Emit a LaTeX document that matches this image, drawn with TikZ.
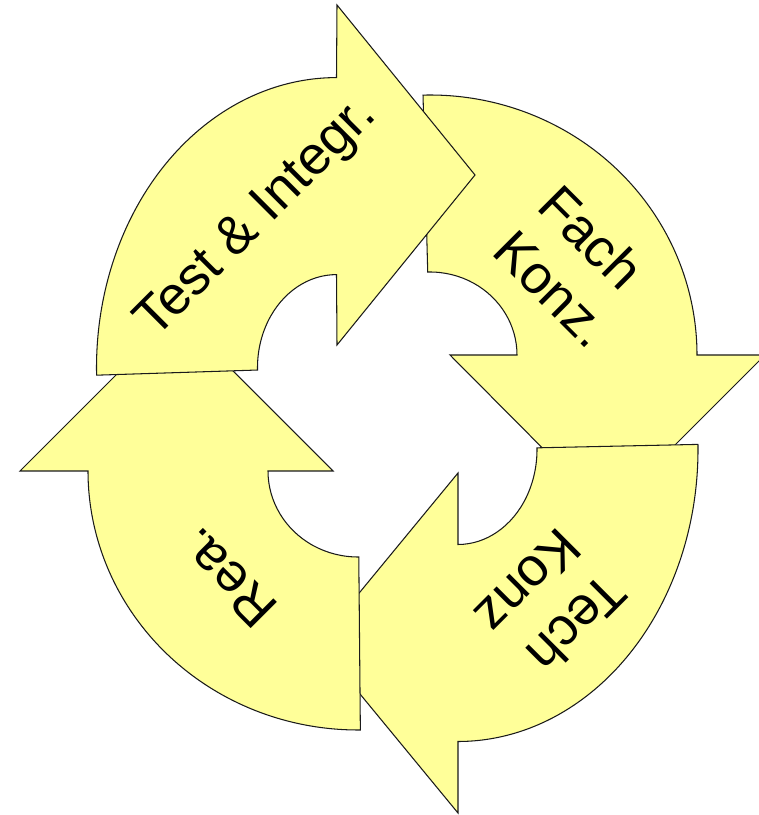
\documentclass[tikz,border=0pt]{standalone}
\usepackage{fontspec}
\setmainfont{Liberation Sans}
\usepackage{tikz}
\usetikzlibrary{calc}
\definecolor{pale}{HTML}{FFFF99}
\definecolor{edge}{HTML}{1A1A1A}
\tikzset{
  band/.style={fill=pale, draw=edge, line width=0.6pt, line join=miter},
  lbl/.style={text=black, font=\fontsize{30.7}{36.4}\selectfont, inner sep=0pt, align=left, anchor=base west}
}

\begin{document}
\begin{tikzpicture}[x=0.02cm, y=0.02cm]
  \useasboundingbox (0,0) rectangle (759,815);

  % arc centres
  \coordinate (F) at (430,460);
  \coordinate (T) at (458,365.5);
  \coordinate (R) at (358,344);
  \coordinate (Q) at (336.5,447.4);

  % Fach Konz. (right, down)
  \draw[band] ($(F)+(91.5:267 and 260)$) arc[start angle=91.5, end angle=0, x radius=267, y radius=260]
    -- (765,460) -- (607,302) -- (450,460)
    -- ($(F)+(0:87 and 83)$) arc[start angle=0, end angle=91.5, x radius=87, y radius=83] -- cycle;

  % Tech Konz (bottom, left)
  \draw[band] ($(T)+(1:240 and 292)$) arc[start angle=1, end angle=-90, x radius=240, y radius=292]
    -- (458,2) -- (318,172) -- (458,342)
    -- ($(T)+(-90:79 and 95)$) arc[start angle=-90, end angle=1, x radius=79, y radius=95] -- cycle;

  % Rea. (left, up)
  \draw[band] ($(R)+(270.5:270 and 259)$) arc[start angle=270.5, end angle=180, x radius=270, y radius=259]
    -- (20,344) -- (176.5,500.5) -- (333,344)
    -- ($(R)+(180:90 and 86)$) arc[start angle=180, end angle=270.5, x radius=90, y radius=86] -- cycle;

  % Test & Integr. (top, right)
  \draw[band] ($(Q)+(181.5:240 and 290)$) arc[start angle=181.5, end angle=90, x radius=240, y radius=290]
    -- (337,810) -- (475,640) -- (337,470)
    -- ($(Q)+(90:79 and 93)$) arc[start angle=90, end angle=181.5, x radius=79, y radius=93] -- cycle;

  % labels (base = last line)
  \node[lbl, rotate=45] (test) at (155,475) {Test \& Integr.};
  \node[lbl, rotate=-45] (fach) at (490,562) {Fach\\Konz.};
  \node[lbl, rotate=225] (tech) at (559,290) {Tech\\Konz};
  \node[lbl, rotate=135] (rea) at (280.5,209.5) {Rea.};
\end{tikzpicture}
\end{document}
